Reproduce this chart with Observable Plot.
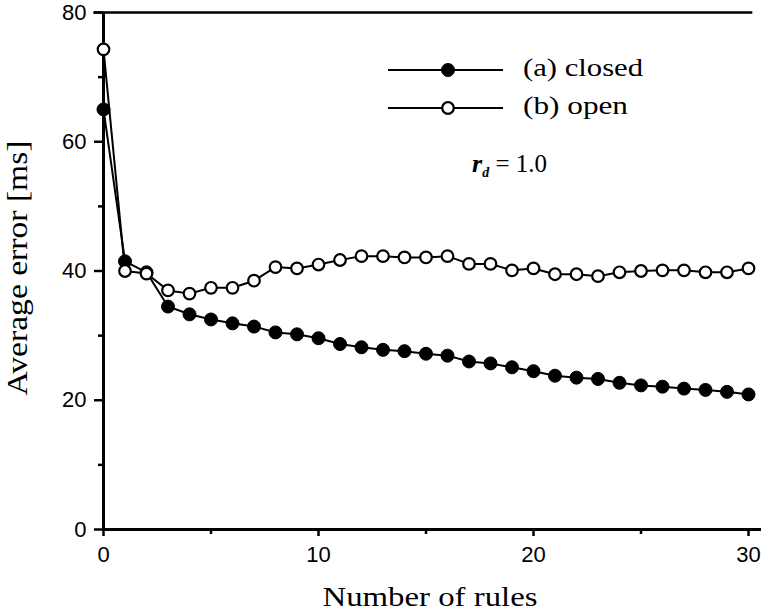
<!DOCTYPE html>
<html>
<head>
<meta charset="utf-8">
<script src="https://cdn.jsdelivr.net/npm/d3@7"></script>
<script src="https://cdn.jsdelivr.net/npm/@observablehq/plot@0.6"></script>
<style>
  html, body { margin: 0; padding: 0; background: #fff; }
  #chart svg { display: block; }
</style>
</head>
<body>
<div id="chart"></div>
<script>
// Number of rules (x categories)
const rules = [0,1,2,3,4,5,6,7,8,9,10,11,12,13,14,15,16,17,18,19,20,21,22,23,24,25,26,27,28,29,30];
// (a) closed  – average error [ms]
const closed = [65.0, 41.5, 39.8, 34.5, 33.3, 32.5, 31.9, 31.4, 30.5, 30.2, 29.6, 28.7, 28.2, 27.8, 27.6, 27.2,
                26.9, 26.0, 25.7, 25.1, 24.5, 23.8, 23.5, 23.3, 22.7, 22.3, 22.1, 21.8, 21.6, 21.3, 20.9];
// (b) open – average error [ms]
const open = [74.3, 40.0, 39.6, 37.0, 36.5, 37.4, 37.4, 38.5, 40.6, 40.4, 41.0, 41.7, 42.3, 42.3, 42.1, 42.1,
              42.3, 41.1, 41.1, 40.1, 40.4, 39.5, 39.5, 39.2, 39.8, 40.0, 40.1, 40.1, 39.8, 39.8, 40.4];
const xTicks = [0, 10, 20, 30];
const xMinor = [5, 15, 25];
const yTicks = [0, 20, 40, 60, 80];
const yMinor = [10, 30, 50, 70];
const seriesLabels = ["(a) closed", "(b) open"];

const closedData = rules.map((r, i) => ({rules: r, err: closed[i]}));
const openData = rules.map((r, i) => ({rules: r, err: open[i]}));

const sans = "'Liberation Sans', Arial, sans-serif";
const serif = "'Liberation Serif', 'Times New Roman', serif";

const plot = Plot.plot({
  width: 761,
  height: 614,
  marginLeft: 103,
  marginRight: 13,
  marginTop: 12,
  marginBottom: 85,
  style: {fontFamily: sans, fontSize: "22px", color: "#000", background: "#fff"},
  x: {domain: [0, 30]},
  y: {domain: [0, 80]},
  marks: [
    Plot.axisX({ticks: xTicks, tickSize: 7, tickPadding: 10, strokeWidth: 2.5, label: null, fontSize: 22}),
    Plot.axisX({ticks: xMinor, tickSize: 5, tickFormat: () => "", strokeWidth: 2.5, label: null}),
    Plot.axisY({ticks: yTicks, tickSize: 9, tickPadding: 8, strokeWidth: 2.5, label: null, fontSize: 22}),
    Plot.axisY({ticks: yMinor, tickSize: 5, tickFormat: () => "", strokeWidth: 2.5, label: null}),
    Plot.ruleX([0], {y1: 0, y2: 80, strokeWidth: 3}),
    Plot.ruleY([0], {x1: 0, x2: 30.62, strokeWidth: 3}),
    Plot.ruleY([80], {x1: -0.45, x2: 30.2, strokeWidth: 2.5}),
    Plot.line(closedData, {x: "rules", y: "err", stroke: "#000", strokeWidth: 2}),
    Plot.dot(closedData, {x: "rules", y: "err", r: 6.5, fill: "#000", stroke: "#000", strokeWidth: 1}),
    Plot.line(openData, {x: "rules", y: "err", stroke: "#000", strokeWidth: 2}),
    Plot.dot(openData, {x: "rules", y: "err", r: 5.8, fill: "#fff", stroke: "#000", strokeWidth: 2.2})
  ]
});

document.getElementById("chart").appendChild(plot);

// annotations: axis titles, legend, r_d
const svg = d3.select(plot);
const g = svg.append("g").attr("fill", "#000").attr("text-anchor", "start");

g.append("text")
  .attr("x", 430).attr("y", 606)
  .attr("text-anchor", "middle")
  .attr("font-family", serif).attr("font-size", 28)
  .attr("textLength", 215).attr("lengthAdjust", "spacingAndGlyphs")
  .text("Number of rules");

g.append("text")
  .attr("transform", "translate(27,268) rotate(-90)")
  .attr("text-anchor", "middle")
  .attr("font-family", serif).attr("font-size", 29)
  .attr("textLength", 255).attr("lengthAdjust", "spacingAndGlyphs")
  .text("Average error [ms]");

// legend
const leg = [
  {label: seriesLabels[0], y: 70, base: 76, fill: "#000", r: 6.5, sw: 1, len: 120},
  {label: seriesLabels[1], y: 108, base: 114, fill: "#fff", r: 5.8, sw: 2.2, len: 105}
];
leg.forEach(d => {
  g.append("line").attr("x1", 388).attr("x2", 503).attr("y1", d.y).attr("y2", d.y)
    .attr("stroke", "#000").attr("stroke-width", 2);
  g.append("circle").attr("cx", 448).attr("cy", d.y).attr("r", d.r)
    .attr("fill", d.fill).attr("stroke", "#000").attr("stroke-width", d.sw);
  g.append("text").attr("x", 523).attr("y", d.base)
    .attr("text-anchor", "start")
    .attr("font-family", serif).attr("font-size", 25)
    .attr("textLength", d.len).attr("lengthAdjust", "spacingAndGlyphs")
    .text(d.label);
});

const rd = g.append("text").attr("x", 472).attr("y", 172)
  .attr("text-anchor", "start")
  .attr("font-family", serif).attr("font-size", 25);
rd.append("tspan").attr("font-style", "italic").attr("font-weight", "bold").attr("font-size", 26).text("r");
rd.append("tspan").attr("font-style", "italic").attr("font-weight", "bold").attr("font-size", 14).attr("dy", 5).text("d");
rd.append("tspan").attr("dy", -5).text(" = 1.0");
</script>
</body>
</html>
